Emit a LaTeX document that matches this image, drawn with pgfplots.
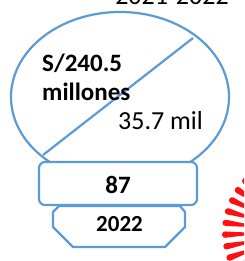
\documentclass[border=0pt]{standalone}
\usepackage{pgfplots}
\pgfplotsset{compat=1.18}
\usepackage{fontspec}
\setmainfont{Carlito}
\definecolor{ob}{HTML}{5B9BD5}
\definecolor{rr}{HTML}{FF1010}
\begin{document}
\begin{tikzpicture}
\begin{axis}[
  width=244pt, height=261pt, scale only axis,
  xmin=0, xmax=244, ymin=0, ymax=261, y dir=reverse,
  hide axis, clip=true,
]
% oval (amount / number of beneficiaries)
\draw[ob, line width=2.2pt, fill=white] (axis cs:120,97) ellipse [x radius=109, y radius=85];
\addplot[ob, line width=2.2pt] coordinates {(193,38) (43,155)};
\node[anchor=base west, font=\fontsize{25}{30}\selectfont\bfseries, inner sep=0pt] at (axis cs:42,72) {S/240.5};
\node[anchor=base west, font=\fontsize{25}{30}\selectfont\bfseries, inner sep=0pt] at (axis cs:42,101) {millones};
\node[anchor=base west, font=\fontsize{26}{30}\selectfont, inner sep=0pt] at (axis cs:118,130) {35.7 mil};
% year label
\node[anchor=base, font=\fontsize{26}{30}\selectfont, inner sep=0pt] at (axis cs:172,5) {2021-2022};
% octagon
\addplot[ob, line width=2.2pt, fill=white] coordinates {(59,206) (53,212) (53,227) (73,247) (165,247) (185,227) (185,212) (180,206)} -- cycle;
% rounded box
\draw[ob, line width=2.2pt, fill=white, rounded corners=6pt] (axis cs:39,162) rectangle (axis cs:197,205);
\node[anchor=base, font=\fontsize{25}{30}\selectfont\bfseries, inner sep=0pt] at (axis cs:118,193) {87};
\node[anchor=base, font=\fontsize{23}{28}\selectfont\bfseries, inner sep=0pt] at (axis cs:119.5,231) {2022};
% sunburst rays
\pgfplotsinvokeforeach{124,133,142,151,160,169,178,187,196,205,214,223,232,241,250}{
  \fill[rr] (axis cs:{300+75*cos(#1+2.4)},{232+75*sin(#1+2.4)}) -- (axis cs:{300+75*cos(#1-2.4)},{232+75*sin(#1-2.4)}) -- (axis cs:{300+52*cos(#1-1.4)},{232+52*sin(#1-1.4)}) -- (axis cs:{300+52*cos(#1+1.4)},{232+52*sin(#1+1.4)}) -- cycle;
  \fill[rr] (axis cs:{300+75*cos(#1)},{232+75*sin(#1)}) circle[radius=3.1];
}
\end{axis}
\pgfresetboundingbox
\useasboundingbox (current axis.south west) rectangle (current axis.north east);
\end{tikzpicture}
\end{document}
